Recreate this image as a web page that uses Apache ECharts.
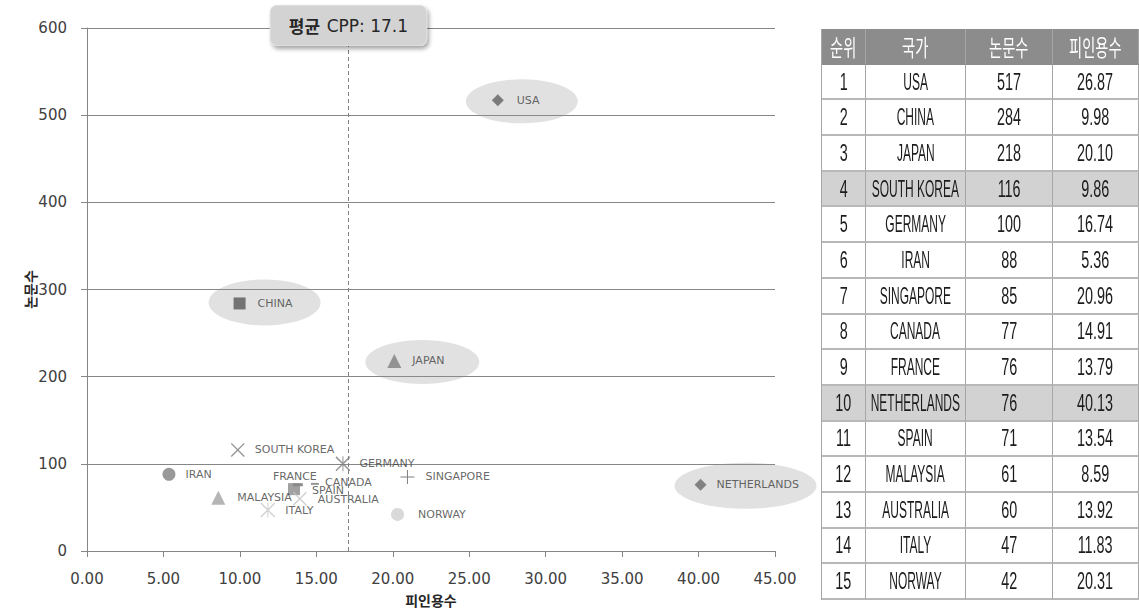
<!DOCTYPE html>
<html>
<head>
<meta charset="utf-8">
<title>국가별 논문수와 피인용수</title>
<script src="https://cdn.jsdelivr.net/npm/echarts@6/dist/echarts.min.js"></script>
<style>
  html, body { margin: 0; padding: 0; background: #ffffff; }
  #wrap { position: relative; width: 1139px; height: 613px; overflow: hidden; }
  #chart { position: absolute; left: 0; top: 0; width: 1139px; height: 613px; }
  #rank {
    position: absolute; left: 821px; top: 29px;
    display: grid;
    grid-template-columns: 44px 100px 87px 86px;
    grid-auto-rows: 35.7px;
    border-left: 1px solid #a6a6a6;
  }
  #rank .c {
    display: flex; align-items: center; justify-content: center;
    white-space: nowrap; overflow: visible;
    box-sizing: border-box;
    border-right: 1px solid #a6a6a6;
    border-bottom: 2px solid #b8b8b8;
    background: #ffffff;
  }
  #rank .c.head { background: #8c8c8c; border-bottom-color: #8c8c8c; border-right-color: #a6a6a6; }
  #rank .c.hl { background: #d2d2d2; }
  #rank .c span {
    display: inline-block;
    font-family: "Liberation Sans", Arial, sans-serif;
    font-size: 24px; line-height: 24px;
    color: #1c1c1c;
    transform: scaleX(0.6);
  }
  #rank .c.name span { transform: scaleX(0.5); }
  #rank .c.head span {
    font-family: "Noto Sans CJK KR", sans-serif;
    font-size: 23px; color: #ffffff;
    transform: scaleX(0.62);
  }
</style>
</head>
<body>
<div id="wrap">
  <div id="chart"></div>
  <div id="rank"></div>
</div>
<script>
// ---- data ----
const countries = ['USA', 'CHINA', 'JAPAN', 'SOUTH KOREA', 'GERMANY', 'IRAN', 'SINGAPORE', 'CANADA',
                   'FRANCE', 'NETHERLANDS', 'SPAIN', 'MALAYSIA', 'AUSTRALIA', 'ITALY', 'NORWAY'];
const ranks = [1, 2, 3, 4, 5, 6, 7, 8, 9, 10, 11, 12, 13, 14, 15];
const papers = [517, 284, 218, 116, 100, 88, 85, 77, 76, 76, 71, 61, 60, 47, 42];
const citesPerPaper = [26.87, 9.98, 20.10, 9.86, 16.74, 5.36, 20.96, 14.91, 13.79, 40.13, 13.54, 8.59, 13.92, 11.83, 20.31];
const avgCpp = 17.1;
const tableHeaders = ['순위', '국가', '논문수', '피인용수'];
const shadedRows = ['SOUTH KOREA', 'NETHERLANDS'];
const circled = ['USA', 'CHINA', 'JAPAN', 'NETHERLANDS'];
const xAxisTitle = '피인용수';
const yAxisTitle = '논문수';

// ---- marker styles ----
const P_X = 'path://M0,1.4L1.4,0L20,18.6L18.6,20ZM18.6,0L20,1.4L1.4,20L0,18.6Z';
const P_STAR = 'path://M0,1.4L1.4,0L20,18.6L18.6,20ZM18.6,0L20,1.4L1.4,20L0,18.6ZM9.3,0L10.7,0L10.7,20L9.3,20Z';
const P_PLUS = 'path://M9.3,0H10.7V9.3H20V10.7H10.7V20H9.3V10.7H0V9.3H9.3Z';
const P_DASH = 'path://M0,0H20V4H0Z';

const markerStyles = {
  'USA':         { symbol: 'diamond',  size: 12, color: '#626262', dist: 13 },
  'CHINA':       { symbol: 'rect',     size: 12, color: '#575757', dist: 12 },
  'JAPAN':       { symbol: 'triangle', size: 14, color: '#7f7f7f', dist: 11 },
  'SOUTH KOREA': { symbol: P_X,        size: 14, color: '#7a7a7a', dist: 10 },
  'GERMANY':     { symbol: P_STAR,     size: 15, color: '#808080', dist: 9 },
  'IRAN':        { symbol: 'circle',   size: 13, color: '#7f7f7f', dist: 10 },
  'SINGAPORE':   { symbol: P_PLUS,     size: 14, color: '#5c5c5c', dist: 11 },
  'CANADA':      { symbol: P_DASH,     size: [8, 2], color: '#7a7a7a', dist: 6, offset: [0, -1] },
  'FRANCE':      { symbol: P_DASH,     size: [10, 3], color: '#6e6e6e', dist: 1, pos: 'top', offset: [-3, 0] },
  'NETHERLANDS': { symbol: 'diamond',  size: 12, color: '#6a6a6a', dist: 10 },
  'SPAIN':       { symbol: 'rect',     size: 12, color: '#8a8a8a', dist: 12, offset: [0, 1] },
  'MALAYSIA':    { symbol: 'triangle', size: 14, color: '#a3a3a3', dist: 12 },
  'AUSTRALIA':   { symbol: P_X,        size: 14, color: '#c4c4c4', dist: 11, offset: [0, 1] },
  'ITALY':       { symbol: P_STAR,     size: 15, color: '#c8c8c8', dist: 10 },
  'NORWAY':      { symbol: 'circle',   size: 13, color: '#cfcfcf', dist: 14 }
};
const ellipseStyles = {
  'USA':         { size: [112, 44], offset: [24, 1] },
  'CHINA':       { size: [112, 46], offset: [25, -1] },
  'JAPAN':       { size: [114, 44], offset: [28, 1] },
  'NETHERLANDS': { size: [142, 46], offset: [45, 1] }
};

// ---- ranking table ----
(function buildTable() {
  const box = document.getElementById('rank');
  const cell = (text, cls) => {
    const d = document.createElement('div');
    d.className = 'c ' + cls;
    const s = document.createElement('span');
    s.textContent = text;
    d.appendChild(s);
    box.appendChild(d);
  };
  tableHeaders.forEach(h => cell(h, 'head'));
  countries.forEach((name, i) => {
    const hl = shadedRows.includes(name) ? ' hl' : '';
    cell(String(ranks[i]), 'num' + hl);
    cell(name, 'name' + hl);
    cell(String(papers[i]), 'num' + hl);
    cell(citesPerPaper[i].toFixed(2), 'num' + hl);
  });
})();

// ---- scatter chart ----
const chart = echarts.init(document.getElementById('chart'), null, { renderer: 'svg' });

const pointData = countries.map((name, i) => {
  const st = markerStyles[name];
  return {
    name: name,
    value: [citesPerPaper[i], papers[i]],
    symbol: st.symbol,
    symbolSize: st.size,
    itemStyle: { color: st.color },
    label: { position: st.pos || 'right', distance: st.dist, offset: st.offset || [0, 0] }
  };
});

const ellipseData = circled.map(name => {
  const i = countries.indexOf(name);
  const st = ellipseStyles[name];
  return {
    name: name,
    value: [citesPerPaper[i], papers[i]],
    symbolSize: st.size,
    symbolOffset: st.offset
  };
});

const axisGray = '#868686';
const tickFont = { fontFamily: 'DejaVu Sans', fontSize: 15, color: '#404040' };

chart.setOption({
  animation: false,
  backgroundColor: '#ffffff',
  grid: { left: 87, right: 364, top: 28, bottom: 62 },
  xAxis: {
    type: 'value', min: 0, max: 45, interval: 5,
    name: xAxisTitle, nameLocation: 'middle', nameGap: 42, nameMoveOverlap: false,
    nameTextStyle: { fontFamily: 'Noto Sans CJK KR', fontSize: 14, fontWeight: 'bold', color: '#262626' },
    axisLine: { show: true, lineStyle: { color: axisGray, width: 1 } },
    axisTick: { show: true, length: 6, lineStyle: { color: axisGray } },
    splitLine: { show: false },
    axisLabel: Object.assign({ margin: 20, formatter: v => v.toFixed(2) }, tickFont)
  },
  yAxis: {
    type: 'value', min: 0, max: 600, interval: 100,
    name: yAxisTitle, nameLocation: 'middle', nameGap: 50, nameRotate: 90, nameMoveOverlap: false,
    nameTextStyle: { fontFamily: 'Noto Sans CJK KR', fontSize: 14, fontWeight: 'bold', color: '#262626' },
    axisLine: { show: true, lineStyle: { color: axisGray, width: 1 } },
    axisTick: { show: true, length: 6, lineStyle: { color: axisGray } },
    splitLine: { show: true, lineStyle: { color: axisGray, width: 1 } },
    axisLabel: Object.assign({ margin: 20 }, tickFont)
  },
  series: [
    {
      name: 'highlight',
      type: 'scatter',
      silent: true,
      clip: false,
      z: 1,
      symbol: 'circle',
      itemStyle: { color: 'rgba(150,150,150,0.36)' },
      data: ellipseData
    },
    {
      name: 'countries',
      type: 'scatter',
      clip: false,
      z: 3,
      label: {
        show: true,
        formatter: '{b}',
        fontFamily: 'DejaVu Sans',
        fontSize: 11,
        color: '#404040'
      },
      data: pointData,
      markLine: {
        silent: true,
        symbol: ['none', 'none'],
        lineStyle: { color: '#7f7f7f', type: [4, 3], width: 1 },
        label: {
          show: true,
          position: 'end',
          distance: -17,
          formatter: '{k|평균}  {v|CPP: ' + avgCpp + '}',
          rich: {
            k: { fontFamily: 'Noto Sans CJK KR', fontWeight: 'bold', fontSize: 17, color: '#262626' },
            v: { fontFamily: 'DejaVu Sans', fontSize: 17, color: '#262626' }
          },
          backgroundColor: '#d3d3d3',
          borderColor: '#dedede',
          borderWidth: 1,
          borderRadius: 6,
          padding: [11, 18, 11, 18],
          shadowColor: 'rgba(0,0,0,0.35)',
          shadowBlur: 4,
          shadowOffsetX: 2,
          shadowOffsetY: 3
        },
        data: [{ xAxis: avgCpp }]
      }
    }
  ]
});
</script>
</body>
</html>
